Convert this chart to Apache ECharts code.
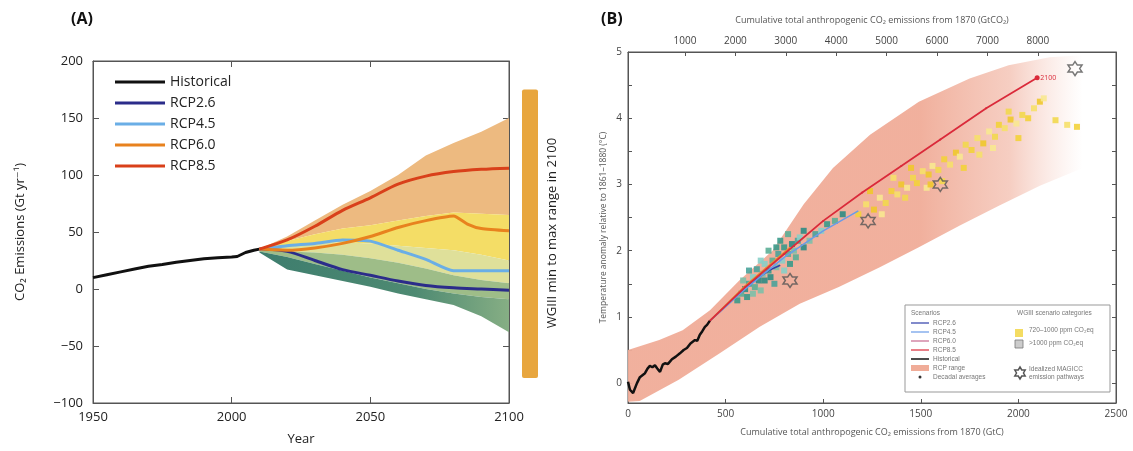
<!DOCTYPE html>
<html><head><meta charset="utf-8">
<script src="https://cdn.jsdelivr.net/npm/echarts@6/dist/echarts.min.js"></script>
<style>html,body{margin:0;padding:0;background:#fff}#c{width:1133px;height:451px}</style>
</head><body><div id="c"></div>
<script>
// ---------- Panel A data ----------
const histYears  = [1950,1955,1960,1965,1970,1975,1980,1985,1990,1995,2000,2002,2005,2008,2010];
const histValues = [10,12.5,15,17.5,20,21.5,23.5,25,26.5,27.5,28,28.5,32,34,35];
const rcpYears = [2010,2020,2030,2040,2050,2060,2070,2080,2090,2100];
const rcp26 = [35,33,25,17,12,7,3,1,0,-1];
const rcp45 = [35,38,40,43,42,34,26,16,16,16];
const rcp85 = [35,43,55,69,80,92,99,103,105,106];
const rcp60Years = [2010,2020,2030,2040,2050,2060,2070,2080,2085,2090,2100];
const rcp60 = [35,34,36,40,46,54,60,64,57,53,51];
// WGIII scenario fan boundaries (top to bottom)
const fanTop    = [35,46,60,74,86,100,117,128,138,150];
const fanB1     = [35,42,48,53,56,60,64,67,66,65];
const fanB2     = [35,38,40,41,40,38,36,34,30,25];
const fanB3     = [34,33,32,30,27,23,18,12,8,5];
const fanB4     = [33,28,22,16,10,5,0,-4,-7,-9];
const fanBottom = [32,17,12,7,2,-4,-9,-14,-24,-38];
const wgRange = [-78, 175];

// ---------- Panel B data ----------
const plumeUpper = [[0,0.5],[160,0.65],[280,0.8],[420,1.1],[570,1.55],[740,2.0],[900,2.7],[1050,3.25],[1240,3.75],[1490,4.25],[1750,4.6],[1950,4.8],[2160,4.92],[2330,4.95]];
const plumeLower = [[0,-0.28],[60,-0.27],[260,0.05],[470,0.45],[675,0.85],[880,1.2],[1080,1.45],[1290,1.75],[1490,2.05],[1700,2.38],[1900,2.68],[2110,2.98],[2330,3.25]];
const histB = [[0,0.02],[10,-0.1],[26,-0.15],[46,0.0],[61,0.09],[87,0.15],[100,0.22],[112,0.26],[125,0.24],[138,0.27],[150,0.22],[164,0.17],[178,0.28],[189,0.3],[205,0.29],[225,0.36],[245,0.4],[266,0.45],[285,0.5],[302,0.53],[320,0.6],[343,0.65],[355,0.64],[368,0.73],[380,0.78],[394,0.85],[405,0.88],[419,0.94]];
const rcp26B = [[419,0.94],[550,1.3],[650,1.55],[720,1.7],[780,1.78]];
const rcp45B = [[419,0.94],[600,1.42],[800,1.9],[1000,2.3],[1180,2.6]];
const rcp60B = [[419,0.94],[600,1.47],[830,2.05]];
const rcp85B = [[419,0.94],[600,1.45],[800,1.95],[1000,2.45],[1200,2.88],[1400,3.28],[1600,3.68],[1835,4.15],[2096,4.61]];
const tealPts = [[560,1.25],[580,1.35],[600,1.42],[590,1.55],[620,1.5],[640,1.6],[610,1.3],[650,1.45],[670,1.55],[690,1.65],[660,1.72],[700,1.8],[720,1.7],[740,1.85],[730,1.6],[760,1.75],[770,1.95],[790,1.85],[800,2.05],[820,1.95],[840,2.1],[850,2.0],[870,2.15],[880,2.2],[760,2.05],[720,2.0],[700,1.55],[680,1.4],[750,1.5],[800,1.7],[830,1.8],[860,1.9],[900,2.05],[930,2.15],[960,2.25],[990,2.3],[1020,2.4],[1060,2.45],[1100,2.55],[640,1.35],[620,1.7],[680,1.85],[780,2.15],[820,2.25],[900,2.3]];
const yellowPts = [[1180,2.55],[1220,2.7],[1260,2.62],[1290,2.8],[1320,2.72],[1350,2.9],[1380,2.85],[1400,3.0],[1430,2.95],[1460,3.1],[1480,3.02],[1510,3.2],[1540,3.15],[1560,3.28],[1590,3.22],[1620,3.38],[1650,3.3],[1680,3.48],[1700,3.42],[1730,3.6],[1760,3.52],[1790,3.7],[1820,3.62],[1850,3.8],[1880,3.72],[1900,3.9],[1930,3.85],[1960,3.98],[1990,3.92],[2020,4.05],[2050,4.0],[2080,4.15],[2110,4.25],[2130,4.3],[2190,3.97],[2300,3.87],[1360,3.1],[1450,3.25],[1530,2.95],[1610,3.05],[1720,3.25],[1800,3.45],[1550,3.0],[1300,2.55],[1420,2.8],[2000,3.7],[2250,3.9],[1240,2.9],[1870,3.55],[1950,4.1]];
const starPts = [[830,1.55],[1230,2.45],[1600,3.0],[2290,4.75]];
const yTicksB = [0,1,2,3,4,5];
const yMinorTicksB = [0,0.5,1,1.5,2,2.5,3,3.5,4,4.5,5];
const topTicksB = [1000,2000,3000,4000,5000,6000,7000,8000];

const FONT = "'Open Sans','DejaVu Sans',sans-serif";
const zip = (xs, ys) => xs.map((x,i)=>[x, ys[i]]);
const plain = v => String(v);
const STAR = 'path://M0,-10 L2.9,-5 L8.66,-5 L5.8,0 L8.66,5 L2.9,5 L0,10 L-2.9,5 L-8.66,5 L-5.8,0 L-8.66,-5 L-2.9,-5 Z';

function band(xs, up, lo, fill, z) {
  return {type:'custom', xAxisIndex:0, yAxisIndex:0, silent:true, z:z||1,
    data:[[xs[0], up[0]]],
    renderItem:(params, api)=>{
      const pts=[];
      for (let i=0;i<xs.length;i++) pts.push(api.coord([xs[i], up[i]]));
      for (let i=xs.length-1;i>=0;i--) pts.push(api.coord([xs[i], lo[i]]));
      const f = typeof fill === 'function' ? fill(api) : fill;
      return {type:'polygon', shape:{points:pts}, style:{fill:f}};
    }};
}

const chart = echarts.init(document.getElementById('c'), null, {renderer:'canvas'});
const axisLineStyle = {onZero:false, lineStyle:{color:'#555', width:1}};
const yellowPal = ['#F3D23A','#F6E06A','#EFC82C','#F8E890','#F2D84E'];
const tealPal = ['#3A9A8A','#5BAE96','#2E8C84','#7CC0A8','#4AA39A','#88CFC8'];

function starPoly(cx, cy, r) {
  const pts = [];
  for (let i = 0; i < 12; i++) {
    const a = -Math.PI/2 + i*Math.PI/6;
    const rr = i % 2 === 0 ? r : r*0.58;
    pts.push([cx + rr*Math.cos(a), cy + rr*Math.sin(a)]);
  }
  return pts;
}

const option = {
  animation:false,
  backgroundColor:'#fff',
  textStyle:{fontFamily:FONT},
  title:[
    {text:'(A)', left:66, top:6, textStyle:{fontSize:16, fontWeight:'bold', color:'#111', fontFamily:FONT}},
    {text:'(B)', left:596, top:6, textStyle:{fontSize:16, fontWeight:'bold', color:'#111', fontFamily:FONT}}
  ],
  legend:{
    data:['Historical','RCP2.6','RCP4.5','RCP6.0','RCP8.5'],
    orient:'vertical', left:110, top:70, itemWidth:50, itemHeight:3, icon:'rect', itemGap:7,
    textStyle:{fontSize:14, color:'#222', fontFamily:FONT}, selectedMode:false
  },
  grid:[
    {left:93, top:61, width:416, height:342, show:true, borderColor:'#555', borderWidth:1},
    {left:522, top:61, width:16, height:342},
    {left:628, top:52, width:488, height:351, show:true, borderColor:'#555', borderWidth:1}
  ],
  xAxis:[
    {gridIndex:0, type:'value', min:1950, max:2100, interval:50, position:'bottom',
     name:'Year', nameLocation:'middle', nameGap:30, nameTextStyle:{fontSize:13, color:'#222'},
     axisLine:axisLineStyle, axisTick:{inside:true, length:6}, splitLine:{show:false},
     axisLabel:{fontSize:13, color:'#222', margin:8, formatter:plain}},
    {gridIndex:0, type:'value', min:1950, max:2100, interval:50, position:'top',
     axisLine:axisLineStyle, axisTick:{inside:true, length:6}, splitLine:{show:false}, axisLabel:{show:false}},
    {gridIndex:1, type:'value', min:-1, max:1, show:false},
    {gridIndex:2, type:'value', min:0, max:2500, interval:500, position:'bottom',
     name:'Cumulative total anthropogenic CO\u2082 emissions from 1870 (GtC)', nameLocation:'middle', nameGap:25,
     nameTextStyle:{fontSize:9, color:'#555'},
     axisLine:axisLineStyle, axisTick:{inside:true, length:4}, splitLine:{show:false},
     axisLabel:{fontSize:10, color:'#444', margin:6, formatter:plain}},
    {gridIndex:2, type:'value', min:-130, max:9550, position:'top',
     name:'Cumulative total anthropogenic CO\u2082 emissions from 1870 (GtCO\u2082)', nameLocation:'middle', nameGap:27,
     nameTextStyle:{fontSize:9, color:'#555'},
     axisLine:axisLineStyle, axisTick:{inside:true, length:4, customValues:topTicksB}, splitLine:{show:false},
     axisLabel:{fontSize:10, color:'#444', margin:6, customValues:topTicksB, formatter:plain}}
  ],
  yAxis:[
    {gridIndex:0, type:'value', min:-100, max:200, interval:50,
     name:'CO\u2082 Emissions (Gt yr\u207B\u00B9)', nameLocation:'middle', nameGap:66, nameTextStyle:{fontSize:13, color:'#222'},
     axisLine:axisLineStyle, axisTick:{inside:true, length:6}, splitLine:{show:false},
     axisLabel:{fontSize:13, color:'#222', margin:10, formatter:v => v < 0 ? '\u2212' + Math.abs(v) : String(v)}},
    {gridIndex:0, type:'value', min:-100, max:200, interval:50, position:'right',
     axisLine:axisLineStyle, axisTick:{inside:true, length:6}, splitLine:{show:false}, axisLabel:{show:false}},
    {gridIndex:1, type:'value', min:-100, max:200, show:false},
    {gridIndex:2, type:'value', min:-0.3, max:5,
     name:'Temperature anomaly relative to 1861\u20131880 (\u00B0C)', nameLocation:'middle', nameGap:20,
     nameTextStyle:{fontSize:8.5, color:'#555'},
     axisLine:axisLineStyle, axisTick:{inside:true, length:4, customValues:yMinorTicksB}, splitLine:{show:false},
     axisLabel:{fontSize:10, color:'#444', margin:6, customValues:yTicksB}},
    {gridIndex:2, type:'value', min:-0.3, max:5, position:'right',
     axisLine:axisLineStyle, axisTick:{inside:true, length:4, customValues:yMinorTicksB}, splitLine:{show:false}, axisLabel:{show:false}}
  ],
  series:[
    band(rcpYears, fanTop, fanB1, '#EDBA80', 1),
    band(rcpYears, fanB1, fanB2, '#F4DD66', 1),
    band(rcpYears, fanB2, fanB3, '#DFE09A', 1),
    band(rcpYears, fanB3, fanB4, '#9EBD88', 1),
    band(rcpYears, fanB4, fanBottom, (api)=>{
      const a = api.coord([2015,0]), b = api.coord([2100,0]);
      return new echarts.graphic.LinearGradient(a[0],0,b[0],0,[{offset:0,color:'#3F7E6E'},{offset:0.6,color:'#4E8A72'},{offset:1,color:'#86AE84'}], true);
    }, 1),
    {name:'Historical', type:'line', xAxisIndex:0, yAxisIndex:0, data:zip(histYears, histValues), showSymbol:false, lineStyle:{color:'#111', width:3}, itemStyle:{color:'#111'}, z:5},
    {name:'RCP2.6', type:'line', xAxisIndex:0, yAxisIndex:0, data:zip(rcpYears, rcp26), showSymbol:false, smooth:0.3, lineStyle:{color:'#2B2C8A', width:3}, itemStyle:{color:'#2B2C8A'}, z:5},
    {name:'RCP4.5', type:'line', xAxisIndex:0, yAxisIndex:0, data:zip(rcpYears, rcp45), showSymbol:false, smooth:0.2, lineStyle:{color:'#6AAEE6', width:3}, itemStyle:{color:'#6AAEE6'}, z:5},
    {name:'RCP6.0', type:'line', xAxisIndex:0, yAxisIndex:0, data:zip(rcp60Years, rcp60), showSymbol:false, smooth:0.2, lineStyle:{color:'#E8821E', width:3}, itemStyle:{color:'#E8821E'}, z:5},
    {name:'RCP8.5', type:'line', xAxisIndex:0, yAxisIndex:0, data:zip(rcpYears, rcp85), showSymbol:false, smooth:0.3, lineStyle:{color:'#D9401A', width:3}, itemStyle:{color:'#D9401A'}, z:6},
    {type:'custom', xAxisIndex:2, yAxisIndex:2, silent:true, data:[[0, wgRange[0], wgRange[1]]],
     renderItem:(params, api)=>{
       const p0 = api.coord([0, api.value(1)]), p1 = api.coord([0, api.value(2)]);
       const cs = params.coordSys;
       return {type:'rect', shape:{x:cs.x, y:p1[1], width:cs.width, height:p0[1]-p1[1], r:2}, style:{fill:'#E8A63E'}};
     }},
    {type:'custom', xAxisIndex:3, yAxisIndex:3, silent:true, data:[[0,0]], z:1,
     renderItem:(params, api)=>{
       const pts = plumeUpper.map(p=>api.coord(p)).concat(plumeLower.slice().reverse().map(p=>api.coord(p)));
       const a = api.coord([1500,0]), b = api.coord([2330,0]);
       const fill = new echarts.graphic.LinearGradient(a[0],0,b[0],0,[
         {offset:0,color:'rgba(240,172,152,0.95)'},{offset:0.55,color:'rgba(242,185,168,0.7)'},{offset:1,color:'rgba(245,205,195,0)'}], true);
       return {type:'polygon', shape:{points:pts}, style:{fill:fill}};
     }},
    {name:'B teal', type:'scatter', xAxisIndex:3, yAxisIndex:3, data:tealPts, symbol:'rect', symbolSize:6, z:3,
     itemStyle:{color:(p)=>tealPal[p.dataIndex % tealPal.length], opacity:0.9}},
    {name:'B yellow', type:'scatter', xAxisIndex:3, yAxisIndex:3, data:yellowPts, symbol:'rect', symbolSize:6, z:3,
     itemStyle:{color:(p)=>yellowPal[p.dataIndex % yellowPal.length], opacity:0.9}},
    {name:'B RCP2.6', type:'line', xAxisIndex:3, yAxisIndex:3, data:rcp26B, showSymbol:false, lineStyle:{color:'#2F3FA8', width:1.5}, z:4},
    {name:'B RCP4.5', type:'line', xAxisIndex:3, yAxisIndex:3, data:rcp45B, showSymbol:false, lineStyle:{color:'#6A9BE8', width:1.5}, z:4},
    {name:'B RCP6.0', type:'line', xAxisIndex:3, yAxisIndex:3, data:rcp60B, showSymbol:false, lineStyle:{color:'#E89030', width:1.5}, z:4},
    {name:'B RCP8.5', type:'line', xAxisIndex:3, yAxisIndex:3, data:rcp85B, symbol:'circle',
     symbolSize:(v,p)=> p.dataIndex === rcp85B.length-1 ? 5 : 2, lineStyle:{color:'#DA2A3A', width:1.8}, itemStyle:{color:'#DA2A3A'}, z:5,
     endLabel:{show:true, formatter:'2100', color:'#DA2A3A', fontSize:7, distance:3}},
    {name:'B Historical', type:'line', xAxisIndex:3, yAxisIndex:3, data:histB, showSymbol:false, lineStyle:{color:'#111', width:2.5}, z:6},
    {name:'B stars', type:'scatter', xAxisIndex:3, yAxisIndex:3, data:starPts, z:7,
     symbol:STAR, symbolSize:14, itemStyle:{color:'rgba(0,0,0,0)', borderColor:'#555', borderWidth:1.5}}
  ],
  graphic:[
    {type:'text', x:552, y:233, rotation:Math.PI/2, style:{text:'WGIII min to max range in 2100', fontSize:13, fill:'#222', fontFamily:FONT, align:'center', verticalAlign:'middle'}},
    {type:'group', x:905, y:305, children:[
      {type:'rect', shape:{x:0,y:0,width:205,height:87}, style:{fill:'#fff', stroke:'#999', lineWidth:1}},
      {type:'text', x:6, y:5, style:{text:'Scenarios', fontSize:6.5, fill:'#777'}},
      {type:'line', shape:{x1:6,y1:18,x2:24,y2:18}, style:{stroke:'#2F3FA8', lineWidth:1.2}},
      {type:'text', x:28, y:15, style:{text:'RCP2.6', fontSize:6.5, fill:'#777'}},
      {type:'line', shape:{x1:6,y1:27,x2:24,y2:27}, style:{stroke:'#6A9BE8', lineWidth:1.2}},
      {type:'text', x:28, y:24, style:{text:'RCP4.5', fontSize:6.5, fill:'#777'}},
      {type:'line', shape:{x1:6,y1:36,x2:24,y2:36}, style:{stroke:'#C86A90', lineWidth:1.2}},
      {type:'text', x:28, y:33, style:{text:'RCP6.0', fontSize:6.5, fill:'#777'}},
      {type:'line', shape:{x1:6,y1:45,x2:24,y2:45}, style:{stroke:'#DA2A3A', lineWidth:1.2}},
      {type:'text', x:28, y:42, style:{text:'RCP8.5', fontSize:6.5, fill:'#777'}},
      {type:'line', shape:{x1:6,y1:54,x2:24,y2:54}, style:{stroke:'#111', lineWidth:1.5}},
      {type:'text', x:28, y:51, style:{text:'Historical', fontSize:6.5, fill:'#777'}},
      {type:'rect', shape:{x:6,y:60,width:18,height:6}, style:{fill:'#F0AC98'}},
      {type:'text', x:28, y:60, style:{text:'RCP range', fontSize:6.5, fill:'#777'}},
      {type:'circle', shape:{cx:15,cy:72,r:1.5}, style:{fill:'#333'}},
      {type:'text', x:28, y:69, style:{text:'Decadal averages', fontSize:6.5, fill:'#777'}},
      {type:'text', x:112, y:5, style:{text:'WGIII scenario categories', fontSize:6.5, fill:'#777'}},
      {type:'rect', shape:{x:110,y:24,width:8,height:8}, style:{fill:'#F4DC62'}},
      {type:'text', x:124, y:22, style:{text:'720\u20131000 ppm CO\u2082eq', fontSize:6.5, fill:'#777'}},
      {type:'rect', shape:{x:110,y:35,width:8,height:8}, style:{fill:'#ccc', stroke:'#777', lineWidth:0.8}},
      {type:'text', x:124, y:35, style:{text:'>1000 ppm CO\u2082eq', fontSize:6.5, fill:'#777'}},
      {type:'polygon', shape:{points:starPoly(115,68,6)}, style:{fill:'none', stroke:'#555', lineWidth:1.5}},
      {type:'text', x:124, y:60, style:{text:'Idealized MAGICC\nemission pathways', fontSize:6.5, fill:'#777', lineHeight:8}}
    ]}
  ]
};
chart.setOption(option);
</script>
</body></html>
